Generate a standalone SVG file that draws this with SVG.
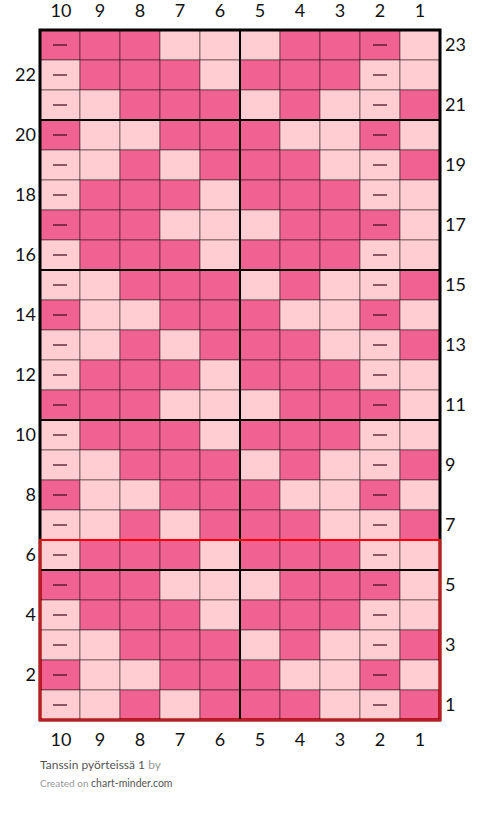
<svg xmlns="http://www.w3.org/2000/svg" width="480" height="813" viewBox="0 0 480 813">
<defs>
<style>
.D{fill:#F06292;stroke:#000;stroke-opacity:0.45;stroke-width:1}
.L{fill:#FFCDD2;stroke:#000;stroke-opacity:0.45;stroke-width:1}
.dash{stroke:#3a0a1a;stroke-opacity:0.6;stroke-width:2}
.thick{stroke:#000;stroke-width:2;fill:none}
.lbl{font-family:Lato,"Liberation Sans",sans-serif;font-size:18px;fill:#111}
.ft{font-family:Lato,"Liberation Sans",sans-serif}
</style>
<g id="rowA"><!-- rows 5,11,17,23 -->
<rect class="D" x="40" y="0" width="40" height="30"/><rect class="D" x="80" y="0" width="40" height="30"/><rect class="D" x="120" y="0" width="40" height="30"/><rect class="L" x="160" y="0" width="40" height="30"/><rect class="L" x="200" y="0" width="40" height="30"/><rect class="L" x="240" y="0" width="40" height="30"/><rect class="D" x="280" y="0" width="40" height="30"/><rect class="D" x="320" y="0" width="40" height="30"/><rect class="D" x="360" y="0" width="40" height="30"/><rect class="L" x="400" y="0" width="40" height="30"/>
<line class="dash" x1="53" y1="15" x2="67" y2="15"/><line class="dash" x1="373" y1="15" x2="387" y2="15"/>
</g>
<g id="rowB"><!-- rows 4,6,10,12,16,18,22 -->
<rect class="L" x="40" y="0" width="40" height="30"/><rect class="D" x="80" y="0" width="40" height="30"/><rect class="D" x="120" y="0" width="40" height="30"/><rect class="D" x="160" y="0" width="40" height="30"/><rect class="L" x="200" y="0" width="40" height="30"/><rect class="D" x="240" y="0" width="40" height="30"/><rect class="D" x="280" y="0" width="40" height="30"/><rect class="D" x="320" y="0" width="40" height="30"/><rect class="L" x="360" y="0" width="40" height="30"/><rect class="L" x="400" y="0" width="40" height="30"/>
<line class="dash" x1="53" y1="15" x2="67" y2="15"/><line class="dash" x1="373" y1="15" x2="387" y2="15"/>
</g>
<g id="rowC"><!-- rows 3,9,15,21 -->
<rect class="L" x="40" y="0" width="40" height="30"/><rect class="L" x="80" y="0" width="40" height="30"/><rect class="D" x="120" y="0" width="40" height="30"/><rect class="D" x="160" y="0" width="40" height="30"/><rect class="D" x="200" y="0" width="40" height="30"/><rect class="L" x="240" y="0" width="40" height="30"/><rect class="D" x="280" y="0" width="40" height="30"/><rect class="L" x="320" y="0" width="40" height="30"/><rect class="L" x="360" y="0" width="40" height="30"/><rect class="D" x="400" y="0" width="40" height="30"/>
<line class="dash" x1="53" y1="15" x2="67" y2="15"/><line class="dash" x1="373" y1="15" x2="387" y2="15"/>
</g>
<g id="rowE"><!-- rows 2,8,14,20 -->
<rect class="D" x="40" y="0" width="40" height="30"/><rect class="L" x="80" y="0" width="40" height="30"/><rect class="L" x="120" y="0" width="40" height="30"/><rect class="D" x="160" y="0" width="40" height="30"/><rect class="D" x="200" y="0" width="40" height="30"/><rect class="D" x="240" y="0" width="40" height="30"/><rect class="L" x="280" y="0" width="40" height="30"/><rect class="L" x="320" y="0" width="40" height="30"/><rect class="D" x="360" y="0" width="40" height="30"/><rect class="L" x="400" y="0" width="40" height="30"/>
<line class="dash" x1="53" y1="15" x2="67" y2="15"/><line class="dash" x1="373" y1="15" x2="387" y2="15"/>
</g>
<g id="rowF"><!-- rows 1,7,13,19 -->
<rect class="L" x="40" y="0" width="40" height="30"/><rect class="L" x="80" y="0" width="40" height="30"/><rect class="D" x="120" y="0" width="40" height="30"/><rect class="L" x="160" y="0" width="40" height="30"/><rect class="D" x="200" y="0" width="40" height="30"/><rect class="D" x="240" y="0" width="40" height="30"/><rect class="D" x="280" y="0" width="40" height="30"/><rect class="L" x="320" y="0" width="40" height="30"/><rect class="L" x="360" y="0" width="40" height="30"/><rect class="D" x="400" y="0" width="40" height="30"/>
<line class="dash" x1="53" y1="15" x2="67" y2="15"/><line class="dash" x1="373" y1="15" x2="387" y2="15"/>
</g>
</defs>
<rect width="480" height="813" fill="#fff"/>
<g id="grid">
<use href="#rowA" y="30"/>
<use href="#rowB" y="60"/>
<use href="#rowC" y="90"/>
<use href="#rowE" y="120"/>
<use href="#rowF" y="150"/>
<use href="#rowB" y="180"/>
<use href="#rowA" y="210"/>
<use href="#rowB" y="240"/>
<use href="#rowC" y="270"/>
<use href="#rowE" y="300"/>
<use href="#rowF" y="330"/>
<use href="#rowB" y="360"/>
<use href="#rowA" y="390"/>
<use href="#rowB" y="420"/>
<use href="#rowC" y="450"/>
<use href="#rowE" y="480"/>
<use href="#rowF" y="510"/>
<use href="#rowB" y="540"/>
<use href="#rowA" y="570"/>
<use href="#rowB" y="600"/>
<use href="#rowC" y="630"/>
<use href="#rowE" y="660"/>
<use href="#rowF" y="690"/>
</g>
<g id="dividers">
<line class="thick" x1="240" y1="30" x2="240" y2="720"/>
<line class="thick" x1="40" y1="120" x2="440" y2="120"/>
<line class="thick" x1="40" y1="270" x2="440" y2="270"/>
<line class="thick" x1="40" y1="420" x2="440" y2="420"/>
<line class="thick" x1="40" y1="570" x2="440" y2="570"/>
<rect x="40" y="30" width="400" height="690" fill="none" stroke="#000" stroke-width="3"/>
</g>
<rect id="repeat" x="40" y="540" width="400" height="180" fill="none" stroke="#ff0000" stroke-width="2"/>
<g id="col-labels-top" class="lbl" text-anchor="middle">
<text x="61" y="17">10</text><text x="100" y="17">9</text><text x="140" y="17">8</text><text x="180" y="17">7</text><text x="220" y="17">6</text><text x="260" y="17">5</text><text x="300" y="17">4</text><text x="340" y="17">3</text><text x="380" y="17">2</text><text x="420" y="17">1</text>
</g>
<g id="col-labels-bottom" class="lbl" text-anchor="middle">
<text x="61" y="746">10</text><text x="100" y="746">9</text><text x="140" y="746">8</text><text x="180" y="746">7</text><text x="220" y="746">6</text><text x="260" y="746">5</text><text x="300" y="746">4</text><text x="340" y="746">3</text><text x="380" y="746">2</text><text x="420" y="746">1</text>
</g>
<g id="row-labels-left" class="lbl" text-anchor="end">
<text x="36" y="81">22</text><text x="36" y="141">20</text><text x="36" y="201">18</text><text x="36" y="261">16</text><text x="36" y="321">14</text><text x="36" y="381">12</text><text x="36" y="441">10</text><text x="36" y="501">8</text><text x="36" y="561">6</text><text x="36" y="621">4</text><text x="36" y="681">2</text>
</g>
<g id="row-labels-right" class="lbl">
<text x="445" y="51">23</text><text x="445" y="111">21</text><text x="445" y="171">19</text><text x="445" y="231">17</text><text x="445" y="291">15</text><text x="445" y="351">13</text><text x="445" y="411">11</text><text x="445" y="471">9</text><text x="445" y="531">7</text><text x="445" y="591">5</text><text x="445" y="651">3</text><text x="445" y="711">1</text>
</g>
<g id="footer" class="ft">
<text x="40" y="769" font-size="12" fill="#555">Tanssin pyörteissä 1 <tspan fill="#999">by</tspan></text>
<text x="40" y="787" font-size="10" fill="#999">Created on <tspan font-size="10.5" fill="#555">chart-minder.com</tspan></text>
</g>
</svg>
